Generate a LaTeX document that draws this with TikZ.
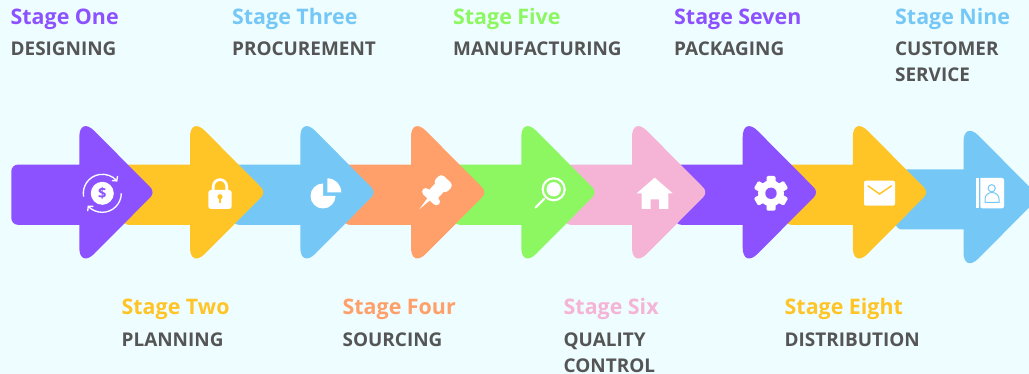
\documentclass[tikz,border=0pt]{standalone}
\usepackage{fontspec}
\setmainfont{Open Sans}
\usetikzlibrary{arrows.meta}
\definecolor{stagebg}{HTML}{EEFDFF}
\definecolor{stagepurple}{HTML}{8C52FF}
\definecolor{stageyellow}{HTML}{FFC527}
\definecolor{stageblue}{HTML}{75C8F5}
\definecolor{stageorange}{HTML}{FFA06A}
\definecolor{stagegreen}{HTML}{8CF761}
\definecolor{stagepink}{HTML}{F5B4D6}
\definecolor{stagegrey}{HTML}{555555}
\tikzset{
  stagetitle/.style={anchor=base west,inner sep=0pt,font=\fontsize{16.05}{20}\bfseries\selectfont},
  stagetext/.style={anchor=base west,inner sep=0pt,align=left,text=stagegrey,font=\fontsize{14.2}{19.7}\bfseries\selectfont},
  stagearrow/.pic={
    \fill[pic actions] (0,-27.7) [rounded corners=16pt] -- (0,-76.5) [rounded corners=5pt] -- (76,0)
      [rounded corners=16pt] -- (0,76.5) [sharp corners] -- (0,32.5) [rounded corners=5pt] -- (-68,32.5)
      -- (-68,-27.7) [sharp corners] -- cycle;
  }
}
\begin{document}
\begin{tikzpicture}[x=0.75pt,y=-0.75pt]
  \fill[stagebg] (0,0) rectangle (1029,374);
  \useasboundingbox (0,0) rectangle (1029,374);
  \clip (0,0) rectangle (1029,374);
  % arrows, last one first
  \pic[fill=stageblue] at (963.5,197) {stagearrow};
  \pic[fill=stageyellow] at (852.8,192.3) {stagearrow};
  \pic[fill=stagepurple] at (742.7,192.3) {stagearrow};
  \pic[fill=stagepink] at (632,192.3) {stagearrow};
  \pic[fill=stagegreen] at (521.3,192.3) {stagearrow};
  \pic[fill=stageorange] at (411,192.3) {stagearrow};
  \pic[fill=stageblue] at (300.3,192.3) {stagearrow};
  \pic[fill=stageyellow] at (190,192.3) {stagearrow};
  \pic[fill=stagepurple] at (79.3,192.3) {stagearrow};
  % money
  \fill[white] (102.3,193.3) circle (11.5);
  \node[inner sep=0pt,text=stagepurple,font=\fontsize{11}{12}\bfseries\selectfont] (dollar) at (102.3,193.3) {\$};
  \draw[white,line width=1pt,-{Straight Barb[length=2.5pt,width=5.5pt]}] (83.6,196.6) arc[start angle=170,end angle=322,radius=19];
  \draw[white,line width=1pt,-{Straight Barb[length=2.5pt,width=5.5pt]}] (121.3,193.3) arc[start angle=0,end angle=140,radius=19];
  % lock
  \fill[white,rounded corners=2pt] (208.3,190) rectangle (231.7,209);
  \draw[white,line width=2pt] (213.3,191) -- (213.3,186.3) arc[start angle=180,end angle=360,radius=6.7] -- (226.7,191);
  \fill[stageyellow] (220,196.7) circle (2.6);
  \fill[stageyellow] (219,197) rectangle (221,203);
  % pie
  \fill[white] (323,196) -- (323,183.5) arc[start angle=-90,end angle=-360,radius=12.5] -- cycle;
  \fill[white] (327.3,192.3) -- (327.3,178.3) arc[start angle=-90,end angle=0,radius=14] -- cycle;
  % pin
  \begin{scope}[shift={(419.3,209.3)},rotate=47]
    \fill[white] (0,0) -- (15,-1.8) -- (15,1.8) -- cycle;
    \fill[white,rounded corners=3pt] (13.5,-11) rectangle (21,11);
    \fill[white] (19,-6) rectangle (30,6);
    \fill[white,rounded corners=3pt] (29,-8.5) rectangle (41,8.5);
  \end{scope}
  % magnifier
  \draw[white,line width=1.6pt] (553.7,189.3) circle (11);
  \fill[white] (553.7,189.3) circle (7.2);
  \draw[white,line width=1.6pt,line cap=round] (544,199) -- (535.7,207.5);
  % house
  \fill[white] (654.7,177.7) -- (672.7,193.3) -- (668.3,193.3) -- (668.3,209) -- (659,209) -- (659,199.3)
    -- (650.7,199.3) -- (650.7,209) -- (641.7,209) -- (641.7,193.3) -- (636.7,193.3) -- cycle;
  % gear
  \fill[white] (771,193.3) circle (13);
  \fill[white,rounded corners=1pt,rotate around={90:(771,193.3)}] (753.7,188.8) rectangle (788.3,197.8);
  \fill[white,rounded corners=1pt,rotate around={30:(771,193.3)}] (753.7,188.8) rectangle (788.3,197.8);
  \fill[white,rounded corners=1pt,rotate around={-30:(771,193.3)}] (753.7,188.8) rectangle (788.3,197.8);
  \fill[stagepurple] (771,193.3) circle (5.7);
  % envelope
  \fill[white,rounded corners=1.5pt] (864,180.7) rectangle (895,205.7);
  \draw[stageyellow,line width=1.1pt] (867.7,185.7) -- (879.5,194) -- (891.7,185.7);
  % contact book
  \fill[white] (976,178) rectangle (978.7,208.3);
  \fill[white,rounded corners=1.5pt] (980.3,178) -- (1004,178) -- (1004,208.3) -- (980.3,208.3) [sharp corners] -- cycle;
  \draw[stageblue,line width=0.75pt] (991.7,188.3) circle (3.6);
  \draw[stageblue,line width=0.75pt] (985,202.3) -- (985,199) arc[start angle=180,end angle=360,radius=7,y radius=6.5] -- (999,202.3) -- cycle;
  % upper labels
  \node[stagetitle,text=stagepurple] (stageone) at (10.4,24.8) {Stage One};
  \node[stagetext] (designing) at (10.4,55.6) {DESIGNING};
  \node[stagetitle,text=stageblue] (stagethree) at (231.9,24.8) {Stage Three};
  \node[stagetext] (procurement) at (231.9,55.6) {PROCUREMENT};
  \node[stagetitle,text=stagegreen] (stagefive) at (452.9,24.8) {Stage Five};
  \node[stagetext] (manufacturing) at (452.9,55.6) {MANUFACTURING};
  \node[stagetitle,text=stagepurple] (stageseven) at (673.9,24.8) {Stage Seven};
  \node[stagetext] (packaging) at (673.9,55.6) {PACKAGING};
  \node[stagetitle,text=stageblue] (stagenine) at (894.9,24.8) {Stage Nine};
  \node[stagetext] (service) at (894.9,81.6) {CUSTOMER\\SERVICE};
  % lower labels
  \node[stagetitle,text=stageyellow] (stagetwo) at (121.4,315) {Stage Two};
  \node[stagetext] (planning) at (121.4,346) {PLANNING};
  \node[stagetitle,text=stageorange] (stagefour) at (342.4,315) {Stage Four};
  \node[stagetext] (sourcing) at (342.4,346) {SOURCING};
  \node[stagetitle,text=stagepink] (stagesix) at (563.4,315) {Stage Six};
  \node[stagetext] (quality) at (563.4,372.3) {QUALITY\\CONTROL};
  \node[stagetitle,text=stageyellow] (stageeight) at (784.4,315) {Stage Eight};
  \node[stagetext] (distribution) at (784.4,346) {DISTRIBUTION};
\end{tikzpicture}
\end{document}
